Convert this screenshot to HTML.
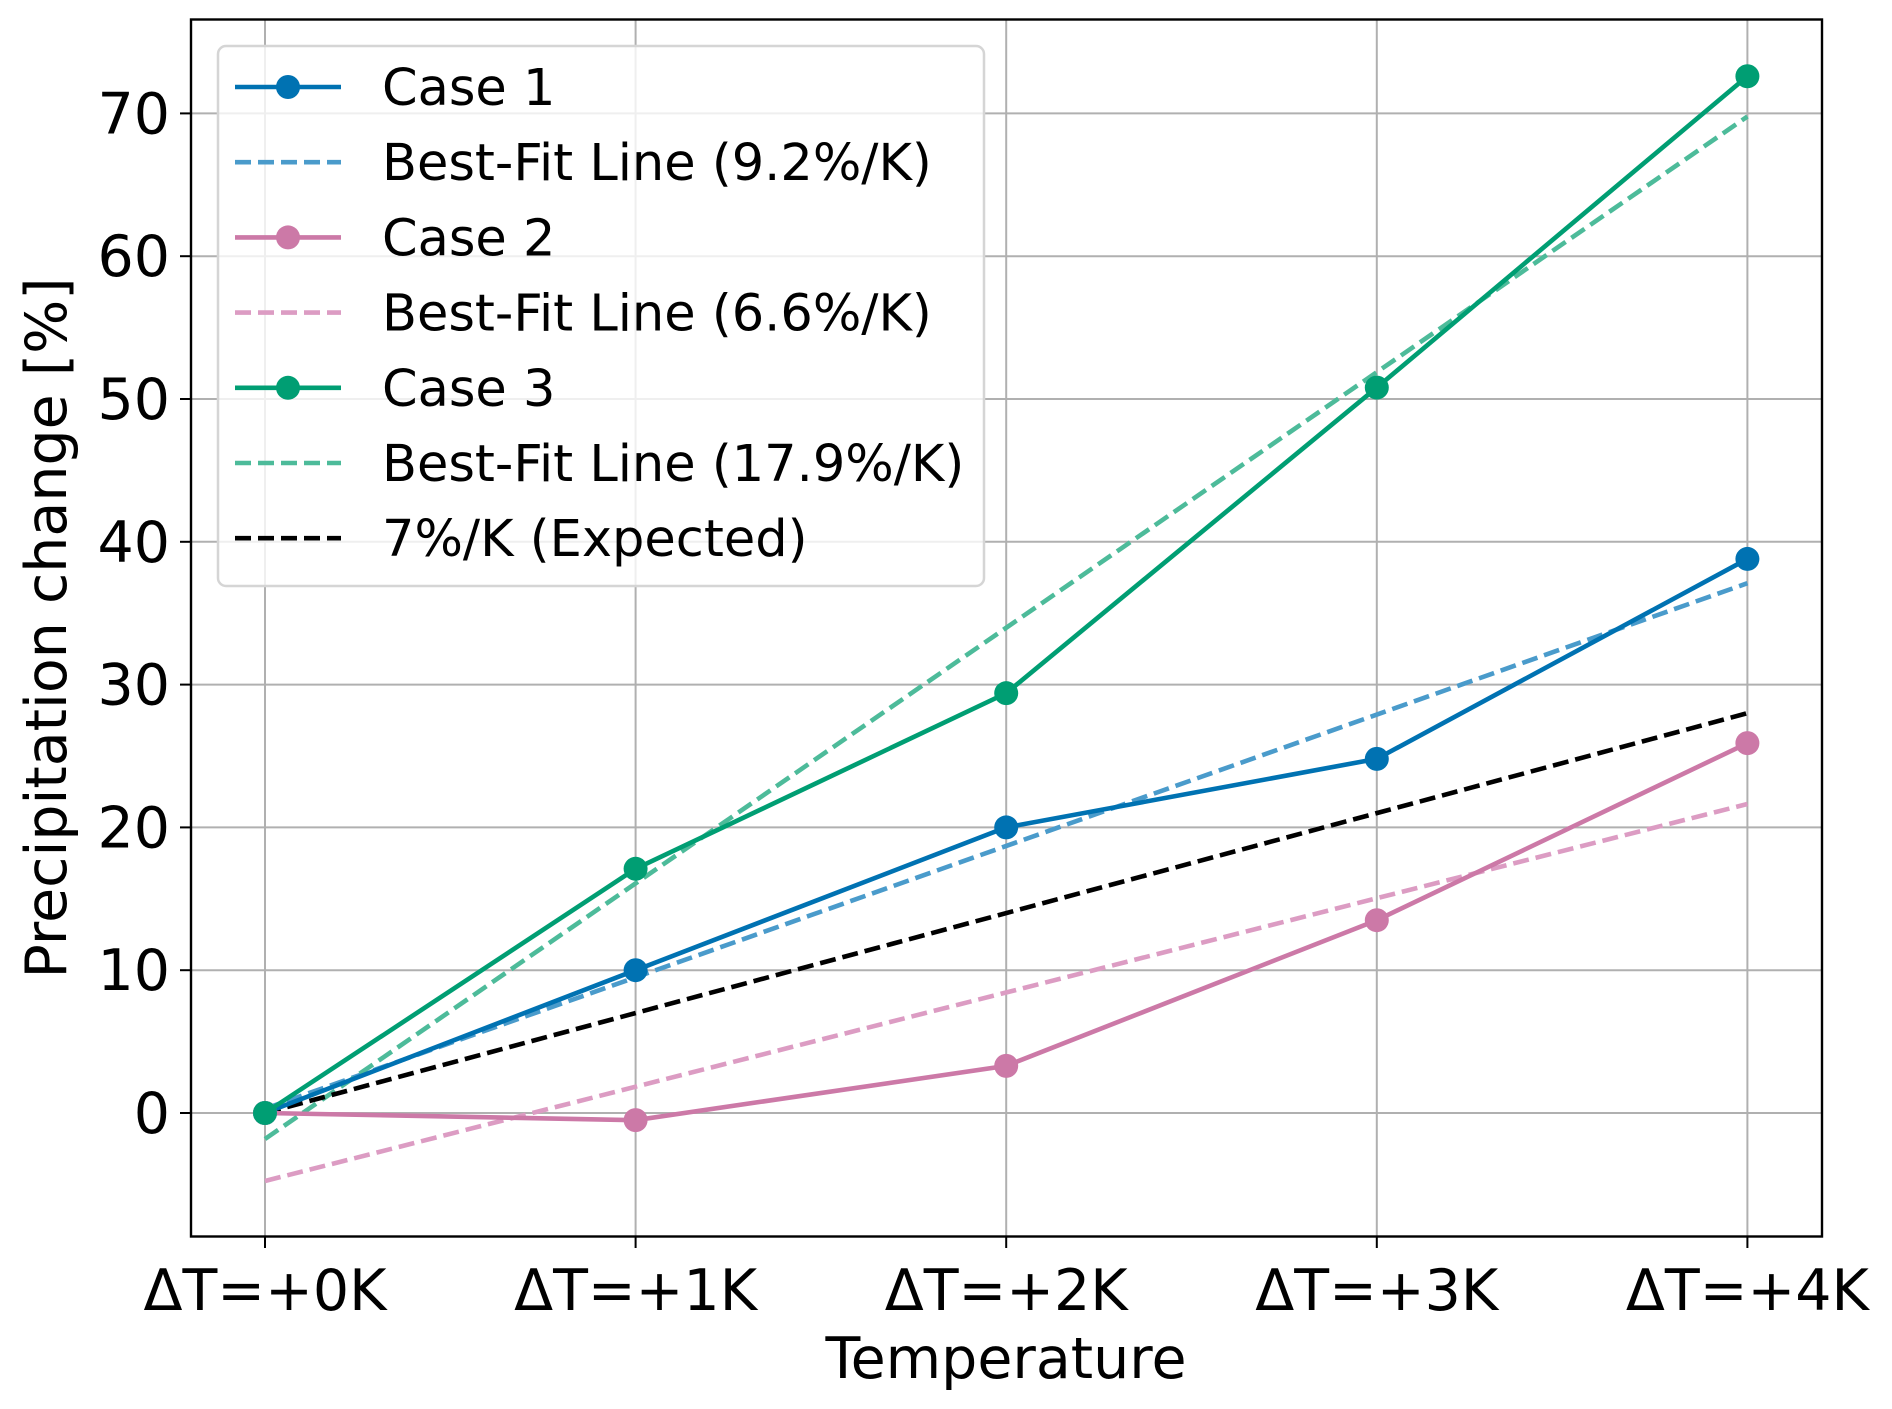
<!DOCTYPE html>
<html><head><meta charset="utf-8"><style>
html,body{margin:0;padding:0;background:#fff;}
svg{display:block;font-family:"DejaVu Sans","Liberation Sans",sans-serif;}
</style></head><body>
<svg id="chart" width="1892" height="1409" viewBox="0 0 1892 1409" xmlns="http://www.w3.org/2000/svg">
<g id="grid"></g>
<g id="series"></g>
<rect x="191" y="19.5" width="1631" height="1217" fill="none" stroke="#000" stroke-width="2.4"/>
<g id="ticks"></g>
<text x="1006" y="1378" font-size="57" text-anchor="middle">Temperature</text>
<text transform="translate(66,628) rotate(-90)" font-size="57" text-anchor="middle">Precipitation change [%]</text>
<g id="legend"></g>
</svg>
<script>
const categories = ["ΔT=+0K","ΔT=+1K","ΔT=+2K","ΔT=+3K","ΔT=+4K"];
const case1 = [0, 10.0, 20.0, 24.8, 38.8];
const case2 = [0, -0.5, 3.3, 13.5, 25.9];
const case3 = [0, 17.1, 29.4, 50.8, 72.6];
const fitSlopes = [9.2, 6.6, 17.9];
const fitIntercepts = [0.3, -4.76, -1.82];
const expectedRate = [7];
const yTicks = [0, 10, 20, 30, 40, 50, 60, 70];
const legendLabels = ["Case 1","Best-Fit Line (9.2%/K)","Case 2","Best-Fit Line (6.6%/K)","Case 3","Best-Fit Line (17.9%/K)","7%/K (Expected)"];

const NS="http://www.w3.org/2000/svg";
const xS = i => 265 + i*370.6;
const yS = v => 1113 - v*14.28;
function mk(parent, tag, attrs){const e=document.createElementNS(NS,tag);for(const k in attrs)e.setAttribute(k,attrs[k]);parent.appendChild(e);return e;}
const grid=document.getElementById('grid'), series=document.getElementById('series'), ticks=document.getElementById('ticks'), legend=document.getElementById('legend');

categories.forEach((c,i)=>{
  const g=mk(grid,'line',{x1:xS(i),x2:xS(i),y1:19.5,y2:1236.5,stroke:'#b0b0b0','stroke-width':2});
  
  
  const t=mk(ticks,'line',{x1:xS(i),x2:xS(i),y1:1236.5,y2:1248,stroke:'#000','stroke-width':2});
  
  
  const l=mk(ticks,'text',{x:xS(i),y:1310,'font-size':57,'text-anchor':'middle'});
  l.textContent=c;
  
  
});
yTicks.forEach(v=>{
  const g=mk(grid,'line',{x1:191,x2:1822,y1:yS(v),y2:yS(v),stroke:'#b0b0b0','stroke-width':2});
  
  
  const t=mk(ticks,'line',{x1:180,x2:191,y1:yS(v),y2:yS(v),stroke:'#000','stroke-width':2});
  
  
  const l=mk(ticks,'text',{x:170,y:yS(v)+20,'font-size':57,'text-anchor':'end'});
  l.textContent=String(v);
  
  
});

const cols=['#0072B2','#CC79A7','#009E73'];
const fitCols=['#4a9bcb','#dc9cc3','#4dbb9a'];
const data=[case1,case2,case3];
const n=categories.length;
fitSlopes.forEach((s,k)=>{
  const b=fitIntercepts[k];
  const f=mk(series,'line',{x1:xS(0),y1:yS(b),x2:xS(n-1),y2:yS(b+s*(n-1)),stroke:fitCols[k],'stroke-width':4.6,'stroke-dasharray':'16,7'});
  
  
});
const ex=mk(series,'line',{x1:xS(0),y1:yS(0),x2:xS(n-1),y2:yS(expectedRate[0]*(n-1)),stroke:'#000','stroke-width':4.6,'stroke-dasharray':'16,7'});


data.forEach((d,k)=>{
  const p=mk(series,'polyline',{points:d.map((v,i)=>xS(i)+','+yS(v)).join(' '),fill:'none',stroke:cols[k],'stroke-width':4.6});
  
  
  d.forEach((v,i)=>{
    const c=mk(series,'circle',{cx:xS(i),cy:yS(v),r:12,fill:cols[k]});
    
    
  });
});

const lb=mk(legend,'rect',{x:218,y:46,width:766,height:540,rx:8,fill:'#fff','fill-opacity':0.8,stroke:'#d5d5d5','stroke-width':2.5});


const legCols=[cols[0],fitCols[0],cols[1],fitCols[1],cols[2],fitCols[2],'#000'];
legendLabels.forEach((txt,i)=>{
  const y=87+i*75.2;
  const g=mk(legend,'g',{});
  
  
  const solid=(i%2===0 && i<6);
  const attrs={x1:235,x2:341,y1:y,y2:y,stroke:legCols[i],'stroke-width':4.6};
  if(!solid) attrs['stroke-dasharray']='16,7';
  mk(g,'line',attrs);
  if(solid) mk(g,'circle',{cx:288,cy:y,r:12,fill:legCols[i]});
  const t=mk(g,'text',{x:382,y:y+18,'font-size':51});
  t.textContent=txt;
});
</script>
</body></html>
